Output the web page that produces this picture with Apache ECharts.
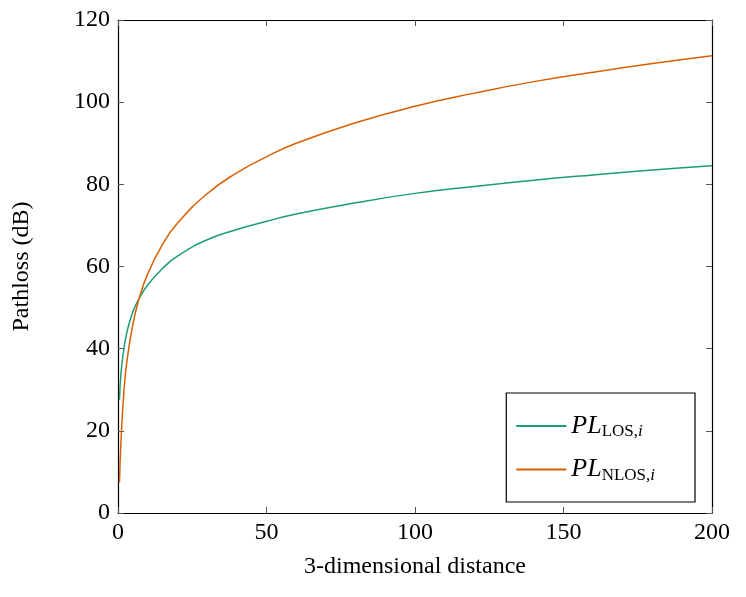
<!DOCTYPE html>
<html><head><meta charset="utf-8">
<script src="https://cdn.jsdelivr.net/npm/echarts@6/dist/echarts.min.js"></script>
<style>html,body{margin:0;padding:0;background:#fff}#c{width:746px;height:597px}</style>
</head><body><div id="c"></div>
<script>
const distances = [0.5,1,2,3,5,7,10,15,20,30,40,50,60,80,100,120,140,160,180,200];
const losValues = [27.5,34,40,44,49,52,55.5,59.5,62.5,66.5,69,71,72.8,75.5,77.8,79.5,81,82.3,83.5,84.5];
const nlosValues = [7.5,17.4,29.7,36.9,45.9,51.9,58.2,65.4,70.5,77.7,82.8,86.7,90,95,99,102.2,105,107.3,109.4,111.3];
const seriesNames = ['PL_LOS', 'PL_NLOS'];
const F = 'Liberation Serif, DejaVu Serif, serif';
const chart = echarts.init(document.getElementById('c'));
const axisCommon = {axisLine:{onZero:false,lineStyle:{color:'#000',width:1.2}},axisTick:{inside:true,length:6,lineStyle:{color:'#555'}},splitLine:{show:false}};
chart.setOption({
  animation:false,
  grid:{left:118,right:34,top:20,bottom:84},
  xAxis:[
    Object.assign({type:'value',min:0,max:200,interval:50,name:'3-dimensional distance',nameLocation:'middle',nameGap:42,
      nameTextStyle:{fontFamily:F,fontSize:24,color:'#000'},axisLabel:{fontFamily:F,fontSize:24,color:'#000',margin:8}},axisCommon),
    Object.assign({type:'value',min:0,max:200,interval:50,position:'top',axisLabel:{show:false}},axisCommon)
  ],
  yAxis:[
    Object.assign({type:'value',min:0,max:120,interval:20,name:'Pathloss (dB)',nameLocation:'middle',nameGap:84,
      nameTextStyle:{fontFamily:F,fontSize:24,color:'#000'},axisLabel:{fontFamily:F,fontSize:24,color:'#000',margin:8}},axisCommon),
    Object.assign({type:'value',min:0,max:120,interval:20,position:'right',axisLabel:{show:false}},axisCommon)
  ],
  legend:{right:51,top:393,orient:'vertical',itemWidth:50,itemHeight:2,itemGap:16,padding:[20,40,18,10],
    backgroundColor:'#fff',borderColor:'#000',borderWidth:1.2,icon:'rect',
    formatter:function(n){return n==='PL_LOS'?'{i|PL}{s|LOS,}{si|i}':'{i|PL}{s|NLOS,}{si|i}';},
    textStyle:{rich:{
      i:{fontFamily:F,fontStyle:'italic',fontSize:26,color:'#000'},
      s:{fontFamily:F,fontSize:17,color:'#000',verticalAlign:'bottom',padding:[12,0,0,0]},
      si:{fontFamily:F,fontStyle:'italic',fontSize:17,color:'#000',verticalAlign:'bottom',padding:[12,0,0,0]}
    }},
    data:seriesNames},
  series:[
    {name:seriesNames[0],type:'line',smooth:true,showSymbol:false,color:'#1b9e77',lineStyle:{width:1.5},
      data:distances.map((d,i)=>[d,losValues[i]])},
    {name:seriesNames[1],type:'line',smooth:true,showSymbol:false,color:'#d95f02',lineStyle:{width:1.5},
      data:distances.map((d,i)=>[d,nlosValues[i]])}
  ]
});
</script></body></html>
